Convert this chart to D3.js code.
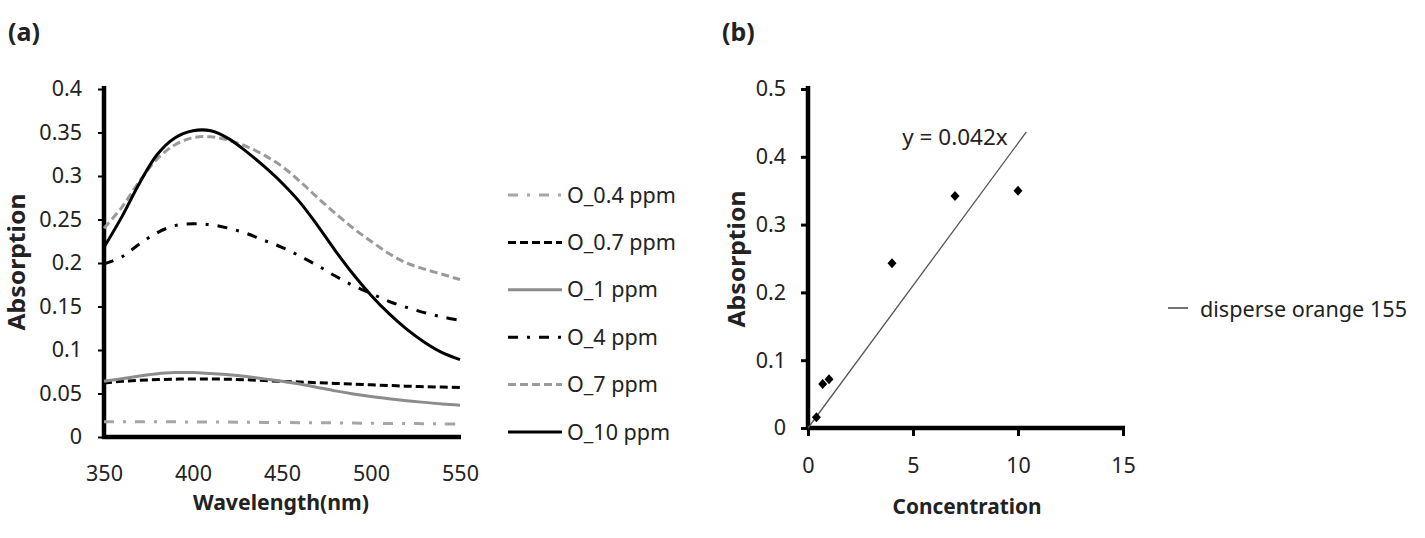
<!DOCTYPE html>
<html>
<head>
<meta charset="utf-8">
<script src="https://cdn.jsdelivr.net/npm/d3@7"></script>
<style>
  html, body { margin: 0; padding: 0; background: #fff; }
  svg { display: block; }
  text { font-family: "Noto Sans", "Open Sans", sans-serif; fill: #222; }
</style>
</head>
<body>
<svg id="chart" width="1425" height="538"></svg>
<script>
// ---------- Data ----------
const wavelengths = [350,360,370,380,390,400,410,420,430,440,450,460,470,480,490,500,510,520,530,540,550];
const o04 = [0.0176,0.0176,0.0175,0.0175,0.0174,0.0173,0.0172,0.0171,0.0170,0.0168,0.0167,0.0165,0.0164,0.0162,0.0160,0.0158,0.0156,0.0155,0.0153,0.0151,0.0150];
const o07 = [0.062,0.064,0.0652,0.066,0.0665,0.0667,0.0666,0.0664,0.0658,0.0649,0.064,0.0632,0.0624,0.0616,0.0608,0.060,0.0592,0.0584,0.0578,0.0574,0.057];
const o1  = [0.064,0.067,0.070,0.0728,0.074,0.0742,0.073,0.0716,0.0695,0.0668,0.0642,0.061,0.057,0.053,0.0495,0.0465,0.044,0.0418,0.0398,0.038,0.0366];
const o4  = [0.199,0.207,0.222,0.235,0.243,0.245,0.244,0.240,0.234,0.226,0.218,0.208,0.197,0.185,0.174,0.165,0.156,0.149,0.143,0.138,0.134];
const o7  = [0.240,0.264,0.294,0.320,0.336,0.344,0.345,0.341,0.334,0.324,0.311,0.294,0.275,0.257,0.240,0.225,0.211,0.200,0.193,0.187,0.181];
const o10 = [0.218,0.253,0.292,0.325,0.344,0.352,0.352,0.343,0.328,0.311,0.292,0.270,0.243,0.214,0.187,0.163,0.142,0.124,0.109,0.097,0.089];
const seriesNames = ["O_0.4 ppm","O_0.7 ppm","O_1 ppm","O_4 ppm","O_7 ppm","O_10 ppm"];
const seriesValues = [o04, o07, o1, o4, o7, o10];
const xTicksA = [350,400,450,500,550];
const yTicksA = [0,0.05,0.1,0.15,0.2,0.25,0.3,0.35,0.4];

const concentrations = [0.4,0.7,1,4,7,10];
const absorbances = [0.016,0.065,0.072,0.243,0.342,0.350];
const trendSlope = 0.042;
const trendRange = [0, 10.4];
const xTicksB = [0,5,10,15];
const yTicksB = [0,0.1,0.2,0.3,0.4,0.5];
const trendLabel = "y = 0.042x";
const legendB = "disperse orange 155";

// ---------- Styles ----------
const styles = [
  {color:"#a6a6a6", dash:"10,9,3,9", width:3},
  {color:"#000000", dash:"8,4", width:3},
  {color:"#8c8c8c", dash:null, width:3},
  {color:"#000000", dash:"10,9,3,9", width:3},
  {color:"#9a9a9a", dash:"8,4", width:3},
  {color:"#000000", dash:null, width:3}
];

const svg = d3.select("#chart");

// ---------- Panel (a) ----------
const xA = d3.scaleLinear().domain([350,550]).range([104,460]);
const yA = d3.scaleLinear().domain([0,0.4]).range([437,89]);

svg.append("text").attr("x",8).attr("y",41).attr("font-size",25).attr("font-weight","bold").text("(a)");

const gyA = svg.append("g").attr("transform","translate(104,0)")
  .call(d3.axisLeft(yA).tickValues(yTicksA).tickFormat(d3.format("~g")).tickSize(6).tickPadding(16));
const gxA = svg.append("g").attr("transform","translate(0,437)")
  .call(d3.axisBottom(xA).tickValues(xTicksA).tickFormat(d3.format("d")).tickSize(0).tickPadding(29));

[gyA, gxA].forEach(g => {
  g.select(".domain").attr("stroke","#000").attr("stroke-width",4.5);
  g.selectAll(".tick line").attr("stroke","#000").attr("stroke-width",2);
  g.selectAll(".tick text").attr("font-size",21.5).attr("fill","#222")
    .attr("font-family","'Noto Sans', sans-serif");
});
gyA.select(".domain").attr("d","M0,86V439");
gxA.select(".domain").attr("d","M102,0H461");

const lineA = d3.line().x((d,i)=>xA(wavelengths[i])).y(d=>yA(d)).curve(d3.curveCatmullRom.alpha(0.5));
seriesValues.forEach((vals,k) => {
  svg.append("path").datum(vals)
    .attr("d", lineA)
    .attr("fill","none")
    .attr("stroke", styles[k].color)
    .attr("stroke-width", styles[k].width)
    .attr("stroke-dasharray", styles[k].dash);
});

svg.append("text").attr("transform","translate(25,262) rotate(-90)")
  .attr("text-anchor","middle").attr("font-size",23).attr("font-weight","bold")
  .attr("textLength",137).attr("lengthAdjust","spacingAndGlyphs").text("Absorption");
svg.append("text").attr("x",281).attr("y",510)
  .attr("text-anchor","middle").attr("font-size",22).attr("font-weight","bold")
  .attr("textLength",176).attr("lengthAdjust","spacingAndGlyphs").text("Wavelength(nm)");

// Legend (a)
const legA = svg.append("g");
seriesNames.forEach((name,k) => {
  const yy = 195 + k*47.4;
  legA.append("line").attr("x1",508).attr("x2",562).attr("y1",yy).attr("y2",yy)
    .attr("stroke",styles[k].color).attr("stroke-width",styles[k].width)
    .attr("stroke-dasharray",styles[k].dash);
  legA.append("text").attr("x",567).attr("y",yy).attr("dy","0.35em")
    .attr("font-size",21.5).text(name);
});

// ---------- Panel (b) ----------
const xB = d3.scaleLinear().domain([0,15]).range([808,1123]);
const yB = d3.scaleLinear().domain([0,0.5]).range([428,89]);

svg.append("text").attr("x",722).attr("y",41).attr("font-size",25).attr("font-weight","bold").text("(b)");

const gyB = svg.append("g").attr("transform","translate(808,0)")
  .call(d3.axisLeft(yB).tickValues(yTicksB).tickFormat(d3.format("~g")).tickSize(7).tickPadding(15));
const gxB = svg.append("g").attr("transform","translate(0,428)")
  .call(d3.axisBottom(xB).tickValues(xTicksB).tickFormat(d3.format("d")).tickSize(8).tickPadding(22));
[gyB, gxB].forEach(g => {
  g.select(".domain").attr("stroke","#000").attr("stroke-width",4.5);
  g.selectAll(".tick line").attr("stroke","#000").attr("stroke-width",3);
  g.selectAll(".tick text").attr("font-size",21.5).attr("fill","#222")
    .attr("font-family","'Noto Sans', sans-serif");
});
gyB.select(".domain").attr("d","M0,86V430");
gxB.select(".domain").attr("d","M806,0H1125");

// trendline
svg.append("line")
  .attr("x1",xB(trendRange[0])).attr("y1",yB(trendSlope*trendRange[0]))
  .attr("x2",xB(trendRange[1])).attr("y2",yB(trendSlope*trendRange[1]))
  .attr("stroke","#555").attr("stroke-width",1.3);

// markers
svg.append("g").selectAll("path").data(concentrations).join("path")
  .attr("transform",(d,i)=>`translate(${xB(d)},${yB(absorbances[i])})`)
  .attr("d","M0,-5L4.5,0L0,5L-4.5,0Z")
  .attr("fill","#000");

svg.append("text").attr("x",955).attr("y",137).attr("dy","0.35em")
  .attr("text-anchor","middle").attr("font-size",22.5).text(trendLabel);

svg.append("text").attr("transform","translate(745,259) rotate(-90)")
  .attr("text-anchor","middle").attr("font-size",23).attr("font-weight","bold")
  .attr("textLength",137).attr("lengthAdjust","spacingAndGlyphs").text("Absorption");
svg.append("text").attr("x",967).attr("y",514)
  .attr("text-anchor","middle").attr("font-size",22).attr("font-weight","bold")
  .attr("textLength",149).attr("lengthAdjust","spacingAndGlyphs").text("Concentration");

// legend (b)
svg.append("line").attr("x1",1168).attr("x2",1188).attr("y1",308).attr("y2",308)
  .attr("stroke","#444").attr("stroke-width",1.5);
svg.append("text").attr("x",1200).attr("y",309).attr("dy","0.35em")
  .attr("font-size",21.5).attr("textLength",207).attr("lengthAdjust","spacingAndGlyphs").text(legendB);
</script>
</body>
</html>
